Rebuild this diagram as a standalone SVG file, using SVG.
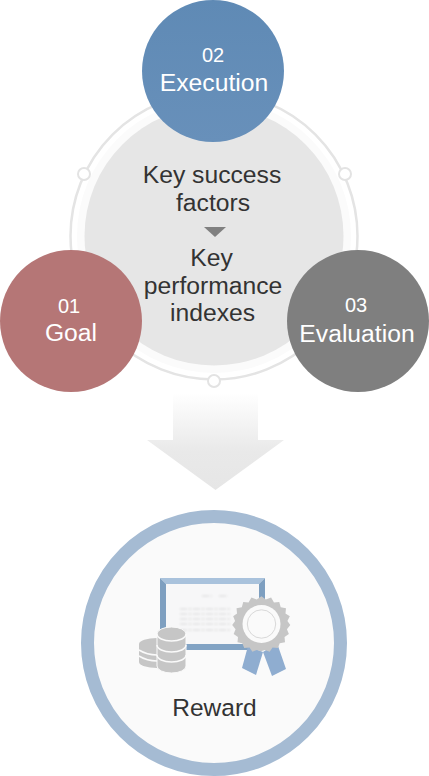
<svg xmlns="http://www.w3.org/2000/svg" width="429" height="776" viewBox="0 0 429 776">
<defs>
<linearGradient id="arrowGrad" x1="0" y1="0" x2="0" y2="1"><stop offset="0" stop-color="#fff"/><stop offset="0.6" stop-color="#e9e9e9"/><stop offset="1" stop-color="#e6e6e6"/></linearGradient>
<linearGradient id="blueGrad" x1="0" y1="0" x2="0" y2="1"><stop offset="0" stop-color="#5f8ab5"/><stop offset="1" stop-color="#6890ba"/></linearGradient>
<filter id="blur1" x="-10%" y="-30%" width="120%" height="160%"><feGaussianBlur stdDeviation="0.9"/></filter>
</defs>
<style>
text{font-family:"Liberation Sans",Arial,sans-serif;text-anchor:middle}
.lbl{font-size:24.700px;fill:#fff}
.num{font-size:20px;fill:#fff}
.ctr{font-size:24.700px;fill:#333}
.dot{fill:#fff;stroke:#e3e3e3;stroke-width:2}
.coin{fill:#c6c6c6}
.sep{fill:none;stroke:#fafafa;stroke-width:1.500}
.txt{stroke:#e6e6e6;stroke-width:1.800;stroke-dasharray:7 1.500 3 1.500;fill:none}
</style>
<g id="connectors">
<path d="M173 393H258V440H284L215.500 490L147 440H173Z" fill="url(#arrowGrad)"/>
</g>
<g id="hub">
<circle cx="214" cy="236" r="137" fill="#fbfbfb"/>
<circle cx="214" cy="236" r="143.500" fill="none" stroke="#e4e4e4" stroke-width="2.500"/>
<circle cx="214" cy="236" r="129.500" fill="#e6e6e6"/>
<circle class="dot" cx="84" cy="174" r="6"/>
<circle class="dot" cx="345" cy="174" r="6"/>
<circle class="dot" cx="214" cy="381" r="6"/>
<text class="ctr" x="212" y="183">Key success</text>
<text class="ctr" x="213" y="211">factors</text>
<path d="M204 227H226L215 237Z" fill="#808080"/>
<text class="ctr" x="211.500" y="266">Key</text>
<text class="ctr" x="213" y="294">performance</text>
<text class="ctr" x="212.500" y="321">indexes</text>
</g>
<g id="node-execution">
<circle cx="213" cy="71" r="71" fill="url(#blueGrad)"/>
<text class="num" x="213" y="62">02</text>
<text class="lbl" x="214" y="91">Execution</text>
</g>
<g id="node-goal">
<circle cx="71" cy="321" r="71" fill="#b57676"/>
<text class="num" x="69" y="313">01</text>
<text class="lbl" x="71" y="341">Goal</text>
</g>
<g id="node-evaluation">
<circle cx="358" cy="321" r="71" fill="#7f7f7f"/>
<text class="num" x="356" y="312">03</text>
<text class="lbl" x="357" y="342">Evaluation</text>
</g>
<g id="node-reward">
<circle cx="214" cy="643" r="126.500" fill="#fafafa" stroke="#a5bbd3" stroke-width="13"/>
<rect x="163" y="581" width="99" height="66" fill="#f7f7f8"/>
<path d="M160 578H265L259 584H166Z" fill="#a9c2dc"/>
<path d="M160 578L166 584V644L160 650Z" fill="#7e9fc0"/>
<path d="M265 578L259 584V644L265 650Z" fill="#7e9fc0"/>
<path d="M160 650L166 644H259L265 650Z" fill="#82a3c4"/>
<g filter="url(#blur1)">
<path class="txt" d="M202 596H212M219 596H228"/>
<path class="txt" d="M180 609H230M180 614H230M180 619H230M180 624H230M180 630H230"/>
</g>
<path d="M248 646L242 668L256 675L263 652Z" fill="#8fadd0"/>
<path d="M263 652L272 676L286 669L277 643Z" fill="#8fadd0"/>
<g transform="translate(261.500 624) scale(.96) translate(-261.500 -624)">
<path d="M261.500 595L266 598.500L271.500 596.500L274.500 601.500L280 601L281.500 606.500L287 607.500L286.500 613L291 616L288.500 621L291.500 625L288 629.500L290 634.500L285.500 637.500L286 643L280.500 644L278.500 649L273 648.500L270 653L265 651L261 652.500L256.500 651L252 653L249 648.500L243.500 649L241.500 644L236.500 643L237 637.500L232.500 634.500L234.500 629.500L231 625L234 621L232 616L236 613L235.500 607.500L241 606.500L242.500 601L248 601.500L251 596.500L256.500 598.500Z" fill="#c6c6c6"/>
</g>
<circle cx="261.500" cy="624" r="19" fill="#fafafa"/>
<circle cx="261.500" cy="624" r="14.200" fill="none" stroke="#cfcfcf" stroke-width="0.800"/>
<path class="coin" d="M139 644a18 6 0 0 1 18 -6H160V668H157a18 6 0 0 1 -18 -6Z"/>
<path class="sep" d="M139 650q8 5 18 5M139 656q8 5 18 5"/>
<path class="coin" d="M157 634a14.500 7 0 0 1 29 0V666a14.500 7 0 0 1 -29 0Z" stroke="#fafafa" stroke-width="1"/>
<path class="sep" d="M157 634a14.500 7 0 0 0 29 0M157 645a14.500 7 0 0 0 29 0M157 655a14.500 7 0 0 0 29 0"/>
<text x="214.500" y="716" style="font-size:24.500px;fill:#333">Reward</text>
</g>
</svg>
